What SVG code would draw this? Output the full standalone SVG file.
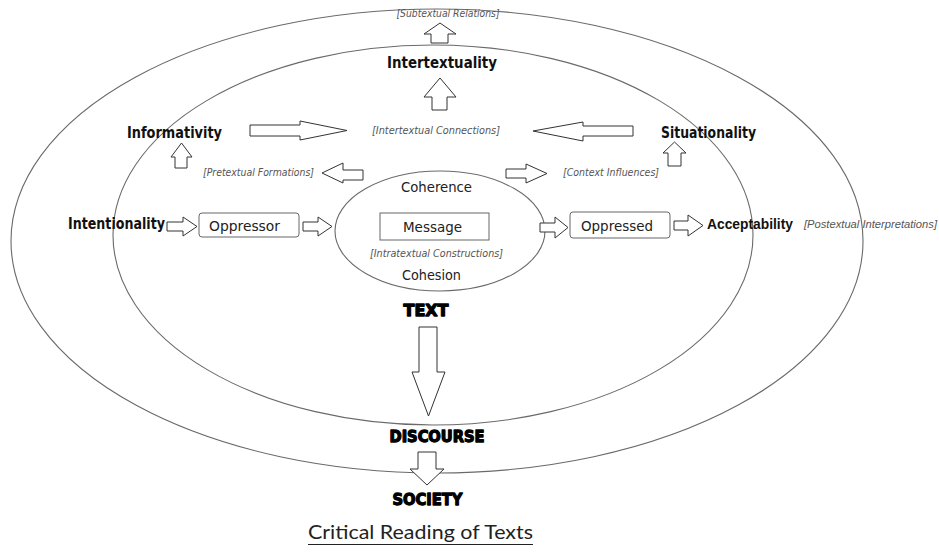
<svg xmlns="http://www.w3.org/2000/svg" width="939" height="553" viewBox="0 0 939 553">
<style>
.ring{fill:none;stroke:#6a6a6a;stroke-width:1.1}
.box{fill:#fff;stroke:#666;stroke-width:1}
.arr{fill:#fff;stroke:#333;stroke-width:1;stroke-linejoin:miter}
.lab{font-family:"DejaVu Sans","Liberation Sans",sans-serif;font-weight:bold;font-size:15px;fill:#111}
.reg{font-family:"DejaVu Sans","Liberation Sans",sans-serif;font-size:14px;fill:#222}
.note{font-family:"DejaVu Sans","Liberation Sans",sans-serif;font-style:italic;font-size:10px;fill:#555}
.narrow{font-family:"Liberation Sans",sans-serif}
.heavy{font-family:"DejaVu Sans","Liberation Sans",sans-serif;font-weight:900;font-size:16px;fill:#000;stroke:#000;stroke-width:1.3;stroke-linejoin:round}
.title{font-family:Lato,"Open Sans","Liberation Sans",sans-serif;font-size:20px;fill:#222}
</style>

<g id="society-ring"><ellipse class="ring" cx="437" cy="241" rx="426" ry="232"/></g>
<g id="discourse-ring"><ellipse class="ring" cx="433" cy="235" rx="320" ry="190"/></g>
<g id="text-core">
<ellipse class="ring" cx="440" cy="231" rx="105" ry="60"/>
<text class="reg" x="436.5" y="192" text-anchor="middle" textLength="71" lengthAdjust="spacingAndGlyphs">Coherence</text>
<text class="note" x="436.5" y="257" text-anchor="middle" textLength="133" lengthAdjust="spacingAndGlyphs">[Intratextual Constructions]</text>
<text class="reg" x="431.5" y="280" text-anchor="middle" textLength="59" lengthAdjust="spacingAndGlyphs">Cohesion</text>
</g>
<g id="message">
<rect class="box" x="380" y="213" width="109" height="27"/>
<text class="reg" x="432.5" y="232" text-anchor="middle" textLength="59" lengthAdjust="spacingAndGlyphs">Message</text>
</g>
<g id="oppressor">
<rect class="box" x="199" y="213" width="100" height="24" rx="3"/>
<text class="reg" x="244.5" y="231" text-anchor="middle" textLength="71" lengthAdjust="spacingAndGlyphs">Oppressor</text>
</g>
<g id="oppressed">
<rect class="box" x="570" y="212" width="100" height="26" rx="3"/>
<text class="reg" x="617" y="231" text-anchor="middle" textLength="72" lengthAdjust="spacingAndGlyphs">Oppressed</text>
</g>
<g id="intentionality"><text class="lab" x="68" y="229" textLength="97" lengthAdjust="spacingAndGlyphs">Intentionality</text></g>
<g id="acceptability"><text class="lab narrow" x="707" y="229" textLength="86" lengthAdjust="spacingAndGlyphs">Acceptability</text></g>
<g id="postextual"><text class="note narrow" x="804" y="228" textLength="133" lengthAdjust="spacingAndGlyphs">[Postextual Interpretations]</text></g>
<g id="informativity"><text class="lab" x="127" y="138" textLength="95" lengthAdjust="spacingAndGlyphs">Informativity</text></g>
<g id="situationality"><text class="lab" x="661" y="138" textLength="95" lengthAdjust="spacingAndGlyphs">Situationality</text></g>
<g id="intertextuality"><text class="lab" x="442" y="68" text-anchor="middle" textLength="110" lengthAdjust="spacingAndGlyphs">Intertextuality</text></g>
<g id="subtextual"><text class="note" x="448" y="17" text-anchor="middle" textLength="103" lengthAdjust="spacingAndGlyphs">[Subtextual Relations]</text></g>
<g id="intertextual-connections"><text class="note" x="436" y="134" text-anchor="middle" textLength="128" lengthAdjust="spacingAndGlyphs">[Intertextual Connections]</text></g>
<g id="pretextual"><text class="note" x="203" y="176" textLength="111" lengthAdjust="spacingAndGlyphs">[Pretextual  Formations]</text></g>
<g id="context"><text class="note" x="563" y="176" textLength="96" lengthAdjust="spacingAndGlyphs">[Context Influences]</text></g>
<g id="text-label"><text class="heavy" x="426" y="316" text-anchor="middle" textLength="45" lengthAdjust="spacingAndGlyphs">TEXT</text></g>
<g id="discourse-label"><text class="heavy" x="437" y="442" text-anchor="middle" textLength="95" lengthAdjust="spacingAndGlyphs">DISCOURSE</text></g>
<g id="society-label"><text class="heavy" x="427.5" y="505" text-anchor="middle" textLength="70" lengthAdjust="spacingAndGlyphs">SOCIETY</text></g>
<g id="caption">
<text class="title" x="420.5" y="539" text-anchor="middle" textLength="225" lengthAdjust="spacingAndGlyphs">Critical Reading of Texts</text>
<line x1="308" y1="544.5" x2="533" y2="544.5" stroke="#222" stroke-width="1.2"/>
</g>

<g id="connectors">
<path class="arr" d="M167,222 H183 V217 L197,226.5 L183,236 V231 H167 Z"/>
<path class="arr" d="M303,222 H318 V217 L332,226.5 L318,236 V231 H303 Z"/>
<path class="arr" d="M540,223 H555 V217 L568,227.5 L555,238 V232 H540 Z"/>
<path class="arr" d="M674,221 H688 V215 L703,225.5 L688,236 V230 H674 Z"/>
<path class="arr" d="M175,168 V157 H171 L181.5,143 L192,157 H187 V168 Z"/>
<path class="arr" d="M250,125 H300 V121 L347,130.5 L300,140 V136 H250 Z"/>
<path class="arr" d="M363,170 H343 V163 L322,173 L343,183 V180 H363 Z"/>
<path class="arr" d="M506,169 H526 V164 L547,173.5 L526,183 V178 H506 Z"/>
<path class="arr" d="M633,126 H583 V122 L533,131 L583,141 V136 H633 Z"/>
<path class="arr" d="M668,166 V153 H663 L674.5,142 L686,153 H681 V166 Z"/>
<path class="arr" d="M432,110 V97 H424 L440,78 L456,97 H447 V110 Z"/>
<path class="arr" d="M431,43 V34 H424 L440,23 L456,34 H448 V43 Z"/>
<path class="arr" d="M419,327 V372 H412 L428.5,416 L445,372 H437 V327 Z"/>
<path class="arr" d="M418,452 V469 H410 L427,485 L444,469 H436 V452 Z"/>
</g>
</svg>
